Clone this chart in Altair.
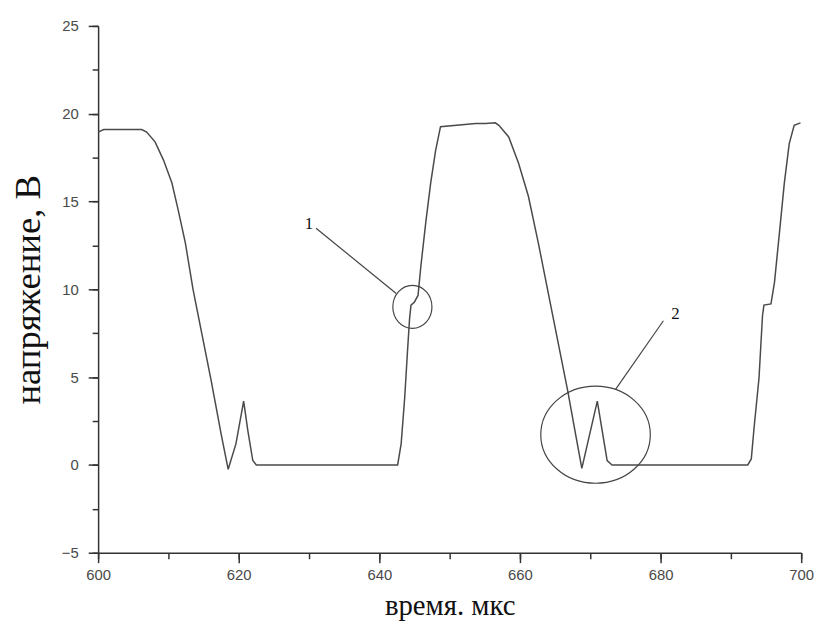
import altair as alt
import pandas as pd

# Signal
time_us = [600.0, 600.8, 606.2, 606.9, 608.1, 609.3, 610.5, 611.4, 612.4, 613.5,
           614.7, 616.1, 617.5, 618.5, 619.6, 620.7, 621.3, 622.0, 622.5,
           642.6, 643.1, 643.6, 644.0, 644.3, 644.5, 645.0, 645.5, 645.9, 646.6,
           647.3, 648.0, 648.7, 653.7, 655.1, 656.5, 657.0, 658.4, 659.8, 661.2,
           662.6, 664.0, 665.4, 666.8, 668.0, 668.8, 671.0, 672.4, 673.1,
           692.4, 692.9, 693.3, 694.0, 694.5, 694.7, 695.7, 696.2, 696.9, 697.6,
           698.3, 699.0, 699.9]
voltage_v = [18.95, 19.1, 19.1, 18.96, 18.4, 17.36, 16.05, 14.5, 12.66, 10.0,
             7.58, 4.76, 1.75, -0.25, 1.2, 3.63, 1.94, 0.25, 0.0,
             0.0, 1.2, 3.8, 6.45, 8.33, 9.1, 9.28, 9.65, 11.3, 13.8,
             16.05, 17.9, 19.26, 19.44, 19.44, 19.48, 19.34, 18.68, 17.18, 15.3,
             12.66, 9.84, 7.02, 4.2, 1.56, -0.2, 3.63, 0.25, 0.0,
             0.0, 0.34, 2.13, 4.95, 8.52, 9.1, 9.17, 10.4, 13.2, 16.05,
             18.3, 19.34, 19.48]

# Annotations
label_text = ["1", "2"]
label_x = [630.0, 682.1]
label_y = [13.7, 8.6]
leader_x1 = [631.0, 680.4]
leader_y1 = [13.48, 8.21]
leader_x2 = [642.4, 673.6]
leader_y2 = [9.76, 4.30]
ring_x = [644.7, 670.75]
ring_y = [9.0, 1.72]

x_major = [600, 620, 640, 660, 680, 700]
x_minor = [600, 610, 620, 630, 640, 650, 660, 670, 680, 690, 700]
y_major = [-5, 0, 5, 10, 15, 20, 25]
y_minor = [-5, -2.5, 0, 2.5, 5, 7.5, 10, 12.5, 15, 17.5, 20, 22.5, 25]

df = pd.DataFrame({"t": time_us, "v": voltage_v})
lab = pd.DataFrame({"x": label_x, "y": label_y, "txt": label_text})
lead = pd.DataFrame({"x": leader_x1, "y": leader_y1, "x2": leader_x2, "y2": leader_y2})
ring1 = pd.DataFrame({"x": ring_x[:1], "y": ring_y[:1]})
ring2 = pd.DataFrame({"x": ring_x[1:], "y": ring_y[1:]})

xs = alt.Scale(domain=[600, 700], nice=False, zero=False)
ys = alt.Scale(domain=[-5, 25], nice=False, zero=False)

tick_font = "Liberation Sans"
title_font = "Liberation Serif"

main = alt.Chart(df).mark_line(color="#4a4a4a", strokeWidth=1.5).encode(
    x=alt.X("t:Q", scale=xs, axis=alt.Axis(
        values=x_major, title="время. мкс", tickSize=10, tickWidth=1.5,
        domainWidth=1.5, domainColor="#333", tickColor="#333",
        labelFont=tick_font, labelFontSize=15, labelColor="#4a4a4a",
        labelPadding=5, labelFlush=False, grid=False,
        titleFont=title_font, titleFontSize=29,
        titleFontWeight="normal", titleColor="#111", titlePadding=9,
        orient="bottom")),
    y=alt.Y("v:Q", scale=ys, axis=alt.Axis(
        values=y_major, title="напряжение, В", tickSize=10, tickWidth=1.5,
        domainWidth=1.5, domainColor="#333", tickColor="#333",
        labelFont=tick_font, labelFontSize=15, labelColor="#4a4a4a",
        labelPadding=10, labelFlush=False, grid=False,
        titleFont=title_font, titleFontSize=37,
        titleFontWeight="normal", titleColor="#111", titlePadding=14,
        orient="left")),
)

minor = alt.Chart(df).mark_line(strokeOpacity=0).encode(
    x=alt.X("t:Q", scale=xs, axis=alt.Axis(
        values=x_minor, title=None, labels=False, domain=False, grid=False,
        tickSize=6, tickWidth=1.5, tickColor="#333", orient="bottom")),
    y=alt.Y("v:Q", scale=ys, axis=alt.Axis(
        values=y_minor, title=None, labels=False, domain=False, grid=False,
        tickSize=6, tickWidth=1.5, tickColor="#333", orient="left")),
)

leaders = alt.Chart(lead).mark_rule(color="#444", strokeWidth=1.2).encode(
    x=alt.X("x:Q", scale=xs, axis=None), y=alt.Y("y:Q", scale=ys, axis=None),
    x2="x2:Q", y2="y2:Q",
)

ring_a = alt.Chart(ring1).mark_point(
    shape="M -0.91 0 A 0.91 1 0 1 0 0.91 0 A 0.91 1 0 1 0 -0.91 0 Z",
    size=1884, filled=False, stroke="#444", strokeWidth=1.2, opacity=1,
).encode(x=alt.X("x:Q", scale=xs, axis=None), y=alt.Y("y:Q", scale=ys, axis=None))

ring_b = alt.Chart(ring2).mark_point(
    shape="M -1 0 A 1 0.886 0 1 0 1 0 A 1 0.886 0 1 0 -1 0 Z",
    size=12232, filled=False, stroke="#444", strokeWidth=1.2, opacity=1,
).encode(x=alt.X("x:Q", scale=xs, axis=None), y=alt.Y("y:Q", scale=ys, axis=None))

texts = alt.Chart(lab).mark_text(
    font=title_font, fontSize=17, color="#111", align="center", baseline="middle"
).encode(x=alt.X("x:Q", scale=xs, axis=None), y=alt.Y("y:Q", scale=ys, axis=None),
         text="txt:N")

chart = alt.layer(main, minor, leaders, ring_a, ring_b, texts).resolve_axis(
    x="independent", y="independent"
).properties(
    width=710, height=532,
    autosize=alt.AutoSizeParams(type="none"),
    padding={"left": 91, "top": 15, "right": 20, "bottom": 82},
).configure(background="white", view=alt.ViewConfig(stroke=None))

chart.save("out.html", embed_options={"renderer": "svg", "actions": False})
